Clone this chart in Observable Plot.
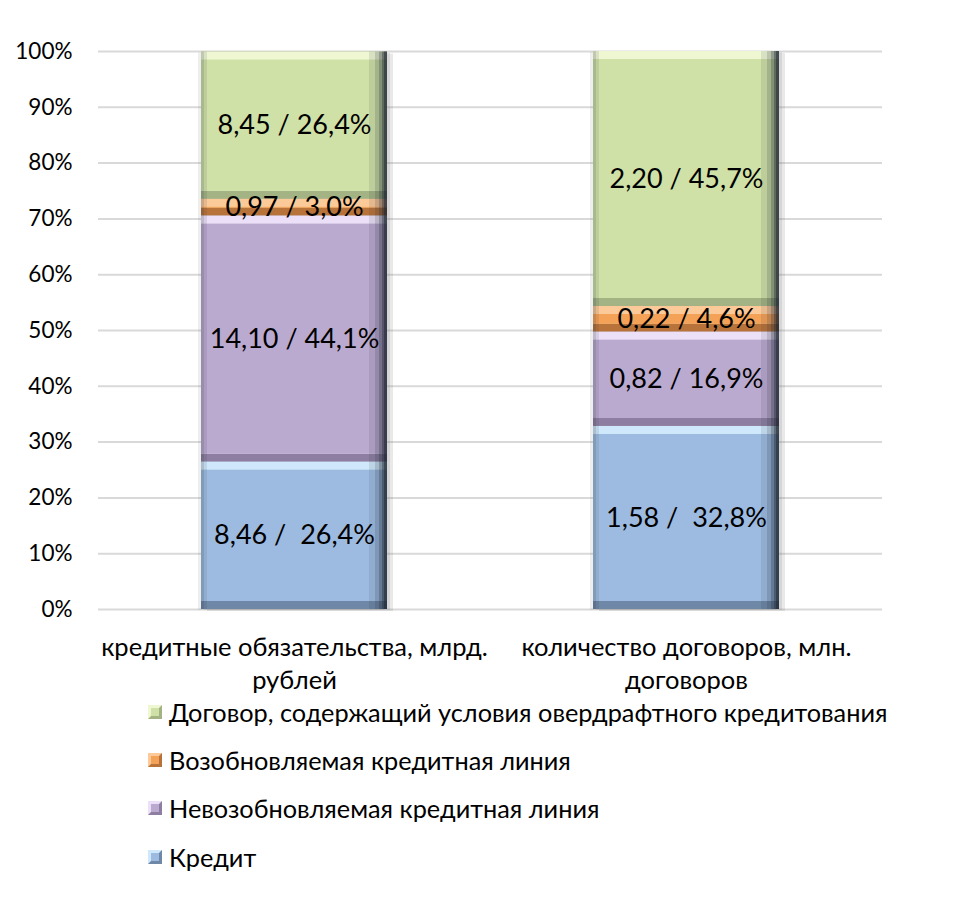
<!DOCTYPE html>
<html>
<head>
<meta charset="utf-8">
<script src="https://cdn.jsdelivr.net/npm/d3@7"></script>
<script src="https://cdn.jsdelivr.net/npm/@observablehq/plot@0.6"></script>
<style>
  html, body { margin: 0; padding: 0; background: #fff; }
  #chart { width: 963px; }
  .legend { font-family: Lato, "Noto Sans", sans-serif; font-size: 25.3px; color: #000; margin-top: -12px; }
  .legend .item { height: 48px; display: flex; align-items: center; padding-left: 148px; }
  .legend .item:last-child { height: 50px; }
  .legend .sw { width: 8px; height: 8px; border-style: solid; border-width: 3px; margin-right: 7px; }
</style>
</head>
<body>
<div id="chart"></div>
<script>
// ---- data ----
const categories = ["кредитные обязательства, млрд.\nрублей", "количество договоров, млн.\nдоговоров"];
const series = [
  "Кредит",
  "Невозобновляемая кредитная линия",
  "Возобновляемая кредитная линия",
  "Договор, содержащий условия овердрафтного кредитования"
];
// shares (%) per series, per category
const shareCredit      = [26.4, 32.8];
const shareNonRenew    = [44.1, 16.9];
const shareRenew       = [3.0, 4.6];
const shareOverdraft   = [26.4, 45.7];
// absolute values (bn rub / mln contracts)
const valueCredit      = [8.46, 1.58];
const valueNonRenew    = [14.10, 0.82];
const valueRenew       = [0.97, 0.22];
const valueOverdraft   = [8.45, 2.20];
const yTicks = [0, 10, 20, 30, 40, 50, 60, 70, 80, 90, 100];

// ---- styles ----
const mainColor  = ["#9dbbe0", "#bbaad0", "#f4a257", "#d0e1a8"];
const lightColor = ["#d0e8fb", "#ebe0f7", "#fcc998", "#eef7d2"];
const darkColor  = ["#7088a8", "#8e7fa2", "#b8733a", "#a3b383"];

const shares = [shareCredit, shareNonRenew, shareRenew, shareOverdraft];
const values = [valueCredit, valueNonRenew, valueRenew, valueOverdraft];
const fmt = v => v.toFixed(2).replace(".", ",");
const fmtP = v => v.toFixed(1).replace(".", ",") + "%";

const data = [];
series.forEach((s, si) => {
  categories.forEach((c, ci) => {
    const sep = si === 0 ? " /  " : " / ";
    data.push({
      category: c,
      series: s,
      si,
      share: shares[si][ci],
      label: fmt(values[si][ci]) + sep + fmtP(shares[si][ci])
    });
  });
});

const W = 963, ML = 98, MR = 81, padIn = 0.525;
const bw = Math.floor((W - ML - MR) / categories.length * (1 - padIn));
const bevel = 8;
const enc = { x: "category", y: "share" };
const edge = "#1c2430";
// side shading strips: [width, opacity]
const rightStrips = [[18, 0.1], [12, 0.15], [8, 0.25], [5, 0.35], [3, 0.5]];
const leftStrips = [[6, 0.1], [3, 0.12]];

const plot = Plot.plot({
  width: W,
  height: 700,
  marginTop: 51,
  marginBottom: 91,
  marginLeft: ML,
  marginRight: MR,
  style: { fontFamily: "Lato, 'Noto Sans', sans-serif", fontSize: "22px", color: "#000", background: "#fff" },
  x: { domain: categories, paddingInner: padIn, paddingOuter: padIn / 2, label: null },
  y: { domain: [0, 100], label: null },
  marks: [
    Plot.ruleY(yTicks, { stroke: "#d9d9d9", strokeWidth: 2 }),
    Plot.axisY({ ticks: yTicks, tickFormat: d => d + "%", tickSize: 0, tickPadding: 26, fontSize: 22.5, label: null }),
    Plot.axisX({ tickSize: 0, tickPadding: 22, fontSize: 25.5, lineHeight: 1.33, label: null }),
    // soft shadow
    Plot.barY(data, { ...enc, fill: "#777", fillOpacity: 0.16, dx: 6, dy: 2 }),
    Plot.barY(data, { ...enc, fill: "#777", fillOpacity: 0.16, dx: 3, dy: 1 }),
    Plot.barY(data, { ...enc, fill: "#777", fillOpacity: 0.12, dx: -3, dy: 1 }),
    // dark (bottom bevel)
    Plot.barY(data, { ...enc, fill: d => darkColor[d.si] }),
    // light (top bevel)
    Plot.barY(data, { ...enc, fill: d => lightColor[d.si], insetBottom: bevel }),
    // main face
    Plot.barY(data, { ...enc, fill: d => mainColor[d.si], insetTop: bevel, insetBottom: bevel }),
    // side shading
    ...rightStrips.map(([w, o]) => Plot.barY(data, { ...enc, fill: edge, fillOpacity: o, insetLeft: bw - w })),
    ...leftStrips.map(([w, o]) => Plot.barY(data, { ...enc, fill: edge, fillOpacity: o, insetRight: bw - w })),
    Plot.text(data, Plot.stackY({ ...enc, text: "label", fontSize: 27, fill: "#000" }))
  ]
});
document.getElementById("chart").appendChild(plot);

// legend (reverse order, as in reference)
const legend = document.createElement("div");
legend.className = "legend";
[3, 2, 1, 0].forEach(si => {
  const item = document.createElement("div");
  item.className = "item";
  const sw = document.createElement("span");
  sw.className = "sw";
  sw.style.background = mainColor[si];
  sw.style.borderTopColor = lightColor[si];
  sw.style.borderLeftColor = lightColor[si];
  sw.style.borderRightColor = darkColor[si];
  sw.style.borderBottomColor = darkColor[si];
  const tx = document.createElement("span");
  tx.textContent = series[si];
  item.appendChild(sw);
  item.appendChild(tx);
  legend.appendChild(item);
});
document.getElementById("chart").appendChild(legend);
</script>
</body>
</html>
